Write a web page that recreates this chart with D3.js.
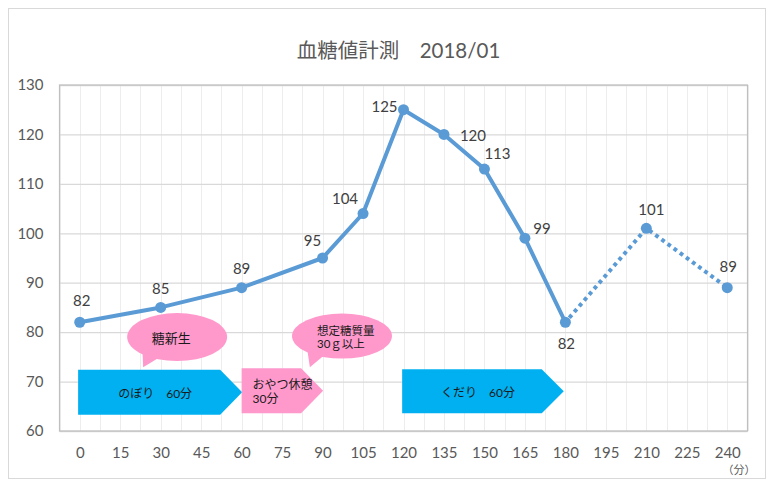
<!DOCTYPE html>
<html><head><meta charset="utf-8">
<script src="https://cdn.jsdelivr.net/npm/d3@7/dist/d3.min.js"></script>
<style>
body{margin:0;background:#fff;}
svg{display:block;font-family:Lato,"Noto Sans CJK JP",sans-serif;}
</style></head>
<body>
<svg id="c" width="779" height="489"></svg>
<script>
// ---- data ----
const title = "血糖値計測\u30002018/01";
const xTicks = [0,15,30,45,60,75,90,105,120,135,150,165,180,195,210,225,240];
const yTicks = [60,70,80,90,100,110,120,130];
const minutes = [0,30,60,90,105,120,135,150,165,180,210,240];
const glucose = [82,85,89,95,104,125,120,113,99,82,101,89];
const solidUntil = 180;   // solid segment ends here, dotted afterwards
const xUnit = "（分）";
// label offsets (px) relative to point
const labelDx = [2,0,0,-10,-18,-19,29,13,17,1,5,1];
const labelDy = [-22,-19,-20,-18,-16,-4,1,-16,-10,21,-19,-22];
// annotations (in data units)
const arrows = [
  {lines:["のぼり\u300060分"], x0:-0.6, x1:60.2, yTop:72.4, yBot:63.3, fill:"#00B0F0", align:"middle"},
  {lines:["おやつ休憩","30分"], x0:60, x1:90.2, yTop:72.7, yBot:63.6, fill:"#FF99CC", align:"start"},
  {lines:["くだり\u300060分"], x0:119.5, x1:179.4, yTop:72.5, yBot:63.6, fill:"#00B0F0", align:"middle"}
];
const callouts = [
  {lines:["糖新生"], cx:36.1, cy:79.0, tipX:23.5, tipY:72.9, fs:13},
  {lines:["想定糖質量","30ｇ以上"], cx:97.2, cy:79.2, tipX:85.3, tipY:72.9, fs:11.5}
];

// ---- layout ----
const svg = d3.select("#c");
const W = 779, H = 489;
const x = d3.scaleLinear().domain([-7.5, 247.5]).range([59.5, 747.5]);
const y = d3.scaleLinear().domain([60, 130]).range([431, 85]);

// outer border
svg.append("rect").attr("x",8.5).attr("y",8.5).attr("width",757).attr("height",470)
  .attr("fill","#fff").attr("stroke","#D9D9D9");

// title
svg.append("text").attr("x",398.5).attr("y",50).attr("text-anchor","middle")
  .attr("dominant-baseline","central").attr("font-size",20.5).attr("fill","#595959").text(title);

// vertical gridlines every half-step
const vgrid = d3.range(-7.5, 247.6, 7.5);
svg.append("g").selectAll("line").data(vgrid).join("line")
  .attr("x1",d=>Math.round(x(d))+0.5).attr("x2",d=>Math.round(x(d))+0.5)
  .attr("y1",y(130)).attr("y2",y(60)).attr("stroke","#EDEDED").attr("stroke-width",1);

// horizontal gridlines
const yAxis = d3.axisLeft(y).tickValues(yTicks).tickSize(-(x(247.5)-x(-7.5))).tickPadding(16);
const gy = svg.append("g").attr("transform",`translate(${x(-7.5)},0)`).call(yAxis);
gy.select(".domain").remove();
gy.selectAll(".tick line").attr("stroke","#D9D9D9").attr("stroke-width",1.3);
gy.selectAll(".tick text").attr("font-size",15).attr("fill","#595959")
  .attr("font-family","Lato,'Noto Sans CJK JP',sans-serif");

// plot border
svg.append("rect").attr("x",x(-7.5)).attr("y",y(130)).attr("width",x(247.5)-x(-7.5))
  .attr("height",y(60)-y(130)).attr("fill","none").attr("stroke","#BFBFBF").attr("stroke-width",1.2);

// x axis labels
const xAxis = d3.axisBottom(x).tickValues(xTicks).tickSize(0).tickPadding(16);
const gx = svg.append("g").attr("transform",`translate(0,${y(60)})`).call(xAxis);
gx.select(".domain").remove();
gx.selectAll(".tick text").attr("font-size",15).attr("fill","#595959")
  .attr("font-family","Lato,'Noto Sans CJK JP',sans-serif");
svg.append("text").attr("x",739).attr("y",469).attr("text-anchor","middle")
  .attr("dominant-baseline","central").attr("font-size",11).attr("fill","#595959").text(xUnit);

// arrows
arrows.forEach(a=>{
  const l=x(a.x0), r=x(a.x1), t=y(a.yTop), b=y(a.yBot), m=(t+b)/2, sh=r-22;
  svg.append("path").attr("d",`M${l},${t}L${sh},${t}L${r},${m}L${sh},${b}L${l},${b}Z`).attr("fill",a.fill);
  const tx = a.align==="middle" ? (l+sh)/2+6 : l+11;
  const n=a.lines.length;
  a.lines.forEach((s,i)=>{
    svg.append("text").attr("x",tx).attr("y",m+(i-(n-1)/2)*13.5+1)
      .attr("text-anchor",a.align).attr("dominant-baseline","central")
      .attr("font-size",12).attr("fill","#1a1a1a").text(s);
  });
});

// callouts
callouts.forEach((c,ci)=>{
  const cx=x(c.cx), cy=y(c.cy), rx=50, ry= ci===0?24:22.5;
  const g=svg.append("g").attr("fill","#FF99CC");
  g.append("ellipse").attr("cx",cx).attr("cy",cy).attr("rx",rx).attr("ry",ry);
  const tx=x(c.tipX), ty=y(c.tipY);
  // base points on ellipse
  const a1=Math.PI*0.62, a2=Math.PI*0.76;
  const p1=[cx+rx*Math.cos(a1)*0.95, cy+ry*Math.sin(a1)*0.9];
  const p2=[cx+rx*Math.cos(a2)*0.95, cy+ry*Math.sin(a2)*0.9];
  g.append("path").attr("d",`M${p1[0]},${p1[1]}L${tx},${ty}L${p2[0]},${p2[1]}Z`);
  const n=c.lines.length;
  c.lines.forEach((s,i)=>{
    svg.append("text").attr("x", n===1? cx-6 : cx-25).attr("y",cy+(i-(n-1)/2)*13+0.5)
      .attr("text-anchor", n===1?"middle":"start").attr("dominant-baseline","central")
      .attr("font-size",c.fs).attr("fill","#1a1a1a").text(s);
  });
});

// data line
const pts = minutes.map((m,i)=>({m, v:glucose[i], i}));
const line = d3.line().x(d=>x(d.m)).y(d=>y(d.v));
svg.append("path").datum(pts.filter(d=>d.m<=solidUntil)).attr("d",line)
  .attr("fill","none").attr("stroke","#5B9BD5").attr("stroke-width",4).attr("stroke-linejoin","round");
svg.append("path").datum(pts.filter(d=>d.m>=solidUntil)).attr("d",line)
  .attr("fill","none").attr("stroke","#5B9BD5").attr("stroke-width",4)
  .attr("stroke-dasharray","3.8 3.8").attr("stroke-dashoffset",-6);
svg.append("g").selectAll("circle").data(pts).join("circle")
  .attr("cx",d=>x(d.m)).attr("cy",d=>y(d.v)).attr("r",5.5).attr("fill","#5B9BD5");
svg.append("g").selectAll("text").data(pts).join("text")
  .attr("x",d=>x(d.m)+labelDx[d.i]).attr("y",d=>y(d.v)+labelDy[d.i])
  .attr("text-anchor","middle").attr("dominant-baseline","central")
  .attr("font-size",15).attr("fill","#404040").text(d=>d.v);
</script>
</body></html>
